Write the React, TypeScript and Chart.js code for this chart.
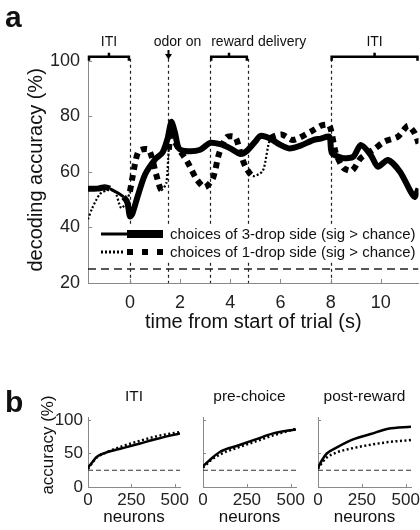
import React, { useEffect, useRef } from "react";
import { Chart, registerables } from "chart.js";

Chart.register(...registerables);

const FONT = "'Liberation Sans', Arial, Helvetica, sans-serif";
const INK = "#111111";
const AXIS = "#8a8a8a";

// ---------------- panel a data ----------------
const timeTicks = [0, 2, 4, 6, 8, 10];
const accuracyTicks = [20, 40, 60, 80, 100];
const timeMin = -1.67;
const timeMax = 11.5;
const chanceLevel = 25;

const threeDropTime = [-1.67, -1.3, -1.0, -0.8, -0.6, -0.4, -0.25, -0.1, 0.0, 0.1, 0.3, 0.6, 1.0, 1.3, 1.5, 1.65, 1.8, 1.95, 2.3, 2.8, 3.2, 3.6, 4.0, 4.4, 4.65, 5.0, 5.2, 5.6, 5.95, 6.35, 6.8, 7.3, 7.6, 7.95, 8.05, 8.5, 8.9, 9.2, 9.6, 9.88, 10.28, 10.76, 11.22, 11.35, 11.5];
const threeDropAcc = [54, 54, 54.5, 54, 53, 52, 51, 49, 44, 45, 51, 59, 64.5, 67, 72, 78, 74, 68.5, 67.5, 68, 70.5, 70, 68.5, 66.5, 67.5, 71, 73, 72, 70, 68.5, 69.5, 71.5, 72, 72.7, 66.8, 65, 65.5, 69.7, 66.1, 61.9, 64.3, 60.1, 52.4, 51, 54];
const threeDropSig = [1, 1, 1, 0, 0, 0, 1, 1, 1, 1, 1, 1, 1, 1, 1, 1, 1, 1, 1, 1, 1, 1, 1, 1, 1, 1, 1, 1, 1, 1, 1, 1, 1, 1, 1, 1, 1, 1, 1, 1, 1, 1, 1, 1, 1];

const oneDropTime = [-1.67, -1.5, -1.2, -0.9, -0.6, -0.35, -0.15, 0.0, 0.1, 0.35, 0.75, 1.05, 1.25, 1.45, 1.55, 1.65, 1.9, 2.3, 2.65, 2.98, 3.3, 3.55, 3.85, 4.2, 4.4, 4.6, 4.9, 5.3, 5.6, 6.05, 6.5, 7.2, 7.65, 7.95, 8.2, 8.5, 8.85, 9.2, 9.7, 10.15, 10.68, 11.08, 11.35, 11.5];
const oneDropAcc = [43, 47, 52, 53.5, 53, 47, 49, 53, 58, 67.5, 68, 59, 53.5, 56, 68, 73, 69, 63.5, 57.5, 54.5, 57.5, 66.5, 72.5, 72.5, 67, 62, 58.5, 60.5, 72, 73.5, 71.5, 74.5, 76.8, 76.8, 67, 61.5, 60.5, 65, 68, 71, 72.7, 76.6, 74, 70.3];
const oneDropSig = [0, 0, 0, 0, 0, 0, 0, 1, 1, 1, 1, 1, 0, 0, 1, 1, 1, 1, 1, 1, 1, 1, 1, 1, 1, 1, 0, 0, 1, 1, 1, 1, 1, 1, 1, 1, 1, 1, 1, 1, 1, 1, 1, 1];

const eventTimes = [0, 1.5, 3.2, 4.7, 8];
const periodLabels = ["ITI", "reward delivery", "ITI"];
const periodStart = [-1.67, 3.2, 8];
const periodEnd = [0, 4.7, 11.5];
const odorLabel = "odor on";
const odorTime = 1.5;
const legendLabels = [
  "choices of 3-drop side (sig > chance)",
  "choices of 1-drop side (sig > chance)",
];
const xTitleA = "time from start of trial (s)";
const yTitleA = "decoding accuracy (%)";

// ---------------- panel b data ----------------
const neuronTicks = [0, 250, 500];
const accuracyTicksB = [0, 50, 100];
const neuronCounts = [0, 25, 50, 100, 200, 300, 400, 530];
const epochTitles = ["ITI", "pre-choice", "post-reward"];
const itiSolid = [29, 37, 45, 51, 58, 65, 72, 80];
const itiDotted = [27, 36, 44, 51, 61, 69, 76, 82];
const preChoiceSolid = [31, 37, 43, 53, 62, 71, 80, 86];
const preChoiceDotted = [29, 35, 41, 49, 59, 68, 77, 87];
const postRewardSolid = [29, 41, 50, 58, 71, 79, 87, 90];
const postRewardDotted = [27, 37, 44, 51, 58, 63, 67, 70];
const xTitleB = "neurons";
const yTitleB = "accuracy (%)";

const solidByEpoch = [itiSolid, preChoiceSolid, postRewardSolid];
const dottedByEpoch = [itiDotted, preChoiceDotted, postRewardDotted];

function pts(xs: number[], ys: number[]) {
  return xs.map((x, i) => ({ x, y: ys[i] }));
}

function PanelA() {
  const ref = useRef<HTMLCanvasElement>(null);
  useEffect(() => {
    const canvas = ref.current!;
    const H = 340;
    const axisBottom = 283;

    const overlay = {
      id: "overlayA",
      beforeDatasetsDraw(chart: any) {
        const { ctx, chartArea: ca, scales } = chart;
        ctx.save();
        ctx.strokeStyle = "#222";
        ctx.lineWidth = 1.2;
        ctx.setLineDash([3, 3]);
        eventTimes.forEach((t) => {
          const x = Math.round(scales.x.getPixelForValue(t)) + 0.5;
          ctx.beginPath();
          ctx.moveTo(x, ca.top + 2);
          ctx.lineTo(x, ca.bottom);
          ctx.stroke();
        });
        ctx.restore();
      },
      afterDatasetsDraw(chart: any) {
        const { ctx, chartArea: ca, scales } = chart;
        ctx.save();
        // legend box
        const lyA = scales.y.getPixelForValue(chanceLevel);
        ctx.fillStyle = "#ffffff";
        ctx.fillRect(95, 224, ca.right - 96, 37);
        ctx.strokeStyle = "#000";
        ctx.lineCap = "butt";
        const ly = [234, 252];
        ctx.lineWidth = 3;
        ctx.beginPath();
        ctx.moveTo(101, ly[0]);
        ctx.lineTo(128, ly[0]);
        ctx.stroke();
        ctx.lineWidth = 8;
        ctx.beginPath();
        ctx.moveTo(127, ly[0]);
        ctx.lineTo(163, ly[0]);
        ctx.stroke();
        ctx.lineWidth = 3;
        ctx.setLineDash([2, 2]);
        ctx.beginPath();
        ctx.moveTo(101, ly[1]);
        ctx.lineTo(125, ly[1]);
        ctx.stroke();
        ctx.setLineDash([]);
        ctx.fillStyle = "#000";
        [127, 142, 157].forEach((x) => ctx.fillRect(x, ly[1] - 3, 6, 6));
        ctx.fillStyle = INK;
        ctx.font = `15px ${FONT}`;
        ctx.textAlign = "left";
        ctx.textBaseline = "middle";
        legendLabels.forEach((s, i) => ctx.fillText(s, 170, ly[i] + 0.5));
        void lyA;

        // brackets and labels above plot
        const by = ca.top;
        ctx.strokeStyle = "#000";
        ctx.lineWidth = 2.5;
        ctx.font = `14px ${FONT}`;
        ctx.textBaseline = "middle";
        periodLabels.forEach((lab, i) => {
          const x1 = scales.x.getPixelForValue(periodStart[i]);
          const x2 = scales.x.getPixelForValue(periodEnd[i]);
          const xc = (x1 + x2) / 2;
          ctx.beginPath();
          ctx.moveTo(x1 + 1, by + 4);
          ctx.lineTo(x1 + 1, by);
          ctx.lineTo(x2 - 1, by);
          ctx.lineTo(x2 - 1, by + 4);
          ctx.moveTo(xc, by);
          ctx.lineTo(xc, by - 4);
          ctx.stroke();
          const w = ctx.measureText(lab).width;
          if (w > x2 - x1) {
            ctx.textAlign = "left";
            ctx.fillText(lab, x1 + 1, 42);
          } else {
            ctx.textAlign = "center";
            ctx.fillText(lab, xc, 42);
          }
        });
        // odor on arrow
        const ox = Math.round(scales.x.getPixelForValue(odorTime)) + 0.5;
        ctx.lineWidth = 2;
        ctx.beginPath();
        ctx.moveTo(ox, 50);
        ctx.lineTo(ox, 55);
        ctx.stroke();
        ctx.beginPath();
        ctx.moveTo(ox - 3.5, 54);
        ctx.lineTo(ox + 3.5, 54);
        ctx.lineTo(ox, 59.5);
        ctx.closePath();
        ctx.fillStyle = "#000";
        ctx.fill();
        ctx.fillStyle = INK;
        ctx.textAlign = "center";
        ctx.fillText(odorLabel, ox + 9, 42);

        // panel letter
        ctx.font = `bold 30px ${FONT}`;
        ctx.textAlign = "left";
        ctx.textBaseline = "alphabetic";
        ctx.fillText("a", 5, 27);
        ctx.restore();
      },
      afterDraw(chart: any) {
        const { ctx, chartArea: ca, scales } = chart;
        ctx.save();
        ctx.strokeStyle = AXIS;
        ctx.lineWidth = 1;
        ctx.beginPath();
        accuracyTicks.forEach((v) => {
          const y = Math.round(scales.y.getPixelForValue(v)) + 0.5;
          ctx.moveTo(ca.left, y);
          ctx.lineTo(ca.left + 4, y);
        });
        timeTicks.forEach((v) => {
          const x = Math.round(scales.x.getPixelForValue(v)) + 0.5;
          ctx.moveTo(x, ca.bottom);
          ctx.lineTo(x, ca.bottom - 4);
        });
        ctx.stroke();
        ctx.restore();
      },
    };

    const chart = new Chart(canvas, {
      type: "line",
      data: {
        datasets: [
          {
            label: legendLabels[0],
            data: pts(threeDropTime, threeDropAcc),
            borderColor: "#000",
            borderWidth: 6,
            pointRadius: 0,
            tension: 0.25,
            borderJoinStyle: "round",
            borderCapStyle: "butt",
            segment: {
              borderWidth: (c: any) => (threeDropSig[c.p0DataIndex] ? 6 : 3),
            },
          } as any,
          {
            label: legendLabels[1],
            data: pts(oneDropTime, oneDropAcc),
            borderColor: "#000",
            borderWidth: 6,
            borderDash: [6, 5],
            pointRadius: 0,
            tension: 0.25,
            borderCapStyle: "butt",
            segment: {
              borderWidth: (c: any) => (oneDropSig[c.p0DataIndex] ? 6 : 2.2),
              borderDash: (c: any) => (oneDropSig[c.p0DataIndex] ? [6, 5] : [2, 2]),
            },
          } as any,
          {
            label: "chance",
            data: [
              { x: timeMin, y: chanceLevel },
              { x: timeMax, y: chanceLevel },
            ],
            borderColor: "#222",
            borderWidth: 1.5,
            borderDash: [8, 5],
            pointRadius: 0,
          },
        ],
      },
      options: {
        responsive: false,
        animation: false,
        devicePixelRatio: 1,
        layout: { padding: { top: 56.8, right: 1.5, left: 0, bottom: 0 } },
        plugins: { legend: { display: false }, tooltip: { enabled: false } },
        scales: {
          x: {
            type: "linear",
            min: timeMin,
            max: timeMax,
            afterBuildTicks: (s: any) => {
              s.ticks = timeTicks.map((v) => ({ value: v }));
            },
            afterFit: (s: any) => {
              s.height = H - axisBottom;
              s.paddingLeft = 0;
              s.paddingRight = 0;
            },
            grid: { display: false, drawTicks: false },
            border: { display: true, color: AXIS, width: 1 },
            ticks: {
              font: { family: FONT, size: 18 },
              color: "#222",
              padding: 9,
              maxRotation: 0,
              autoSkip: false,
            },
            title: {
              display: true,
              text: xTitleA,
              font: { family: FONT, size: 20 },
              color: INK,
              padding: { top: 0, bottom: 6 },
            },
          },
          y: {
            type: "linear",
            min: 20,
            max: 101.5,
            afterBuildTicks: (s: any) => {
              s.ticks = accuracyTicks.map((v) => ({ value: v }));
            },
            afterFit: (s: any) => {
              s.width = 88;
              s.paddingTop = 0;
              s.paddingBottom = 0;
            },
            grid: { display: false, drawTicks: false },
            border: { display: true, color: AXIS, width: 1 },
            ticks: {
              font: { family: FONT, size: 18 },
              color: "#222",
              padding: 8,
            },
            title: {
              display: true,
              text: yTitleA,
              font: { family: FONT, size: 20 },
              color: INK,
              padding: { top: 24, bottom: 0 },
            },
          },
        },
      } as any,
      plugins: [overlay],
    });
    return () => chart.destroy();
  }, []);
  return (
    <canvas
      ref={ref}
      width={420}
      height={340}
      style={{ position: "absolute", left: 0, top: 0 }}
    />
  );
}

const epochLeft = [0, 190, 305];
const epochWidth = [190, 115, 115];

function EpochChart({ idx }: { idx: number }) {
  const ref = useRef<HTMLCanvasElement>(null);
  useEffect(() => {
    const canvas = ref.current!;
    const first = idx === 0;
    const H = 150;
    const overlay = {
      id: "epochOverlay" + idx,
      afterDraw(chart: any) {
        const { ctx, chartArea: ca, scales } = chart;
        ctx.save();
        ctx.strokeStyle = AXIS;
        ctx.lineWidth = 1;
        ctx.beginPath();
        accuracyTicksB.forEach((v) => {
          const y = Math.round(scales.y.getPixelForValue(v)) + 0.5;
          ctx.moveTo(ca.left, y);
          ctx.lineTo(ca.left + 3, y);
        });
        neuronTicks.forEach((v) => {
          const x = Math.round(scales.x.getPixelForValue(v)) + 0.5;
          ctx.moveTo(x, ca.bottom);
          ctx.lineTo(x, ca.bottom - 3);
        });
        ctx.stroke();
        ctx.fillStyle = INK;
        ctx.textAlign = "center";
        ctx.textBaseline = "middle";
        ctx.font = `15.5px ${FONT}`;
        ctx.fillText(epochTitles[idx], (ca.left + ca.right) / 2, 17);
        if (first) {
          ctx.save();
          ctx.translate(48, 65);
          ctx.rotate(-Math.PI / 2);
          ctx.font = `17px ${FONT}`;
          ctx.fillText(yTitleB, 0, 0);
          ctx.restore();
          ctx.font = `bold 30px ${FONT}`;
          ctx.textAlign = "left";
          ctx.textBaseline = "alphabetic";
          ctx.fillText("b", 5, 32);
        }
        ctx.restore();
      },
    };
    const chart = new Chart(canvas, {
      type: "line",
      data: {
        datasets: [
          {
            label: "3-drop",
            data: pts(neuronCounts, solidByEpoch[idx]),
            borderColor: "#000",
            borderWidth: 2.5,
            pointRadius: 0,
            cubicInterpolationMode: "monotone",
          } as any,
          {
            label: "1-drop",
            data: pts(neuronCounts, dottedByEpoch[idx]),
            borderColor: "#000",
            borderWidth: 2.5,
            borderDash: [2, 2.5],
            pointRadius: 0,
            cubicInterpolationMode: "monotone",
          } as any,
          {
            label: "chance",
            data: [
              { x: 0, y: chanceLevel },
              { x: 530, y: chanceLevel },
            ],
            borderColor: "#333",
            borderWidth: 1.2,
            borderDash: [5, 3],
            pointRadius: 0,
          },
        ],
      },
      options: {
        responsive: false,
        animation: false,
        devicePixelRatio: 1,
        layout: { padding: { top: 37.3, right: first ? 10 : 9, left: 0, bottom: 0 } },
        plugins: { legend: { display: false }, tooltip: { enabled: false } },
        scales: {
          x: {
            type: "linear",
            min: 0,
            max: 530,
            afterBuildTicks: (s: any) => {
              s.ticks = neuronTicks.map((v) => ({ value: v }));
            },
            afterFit: (s: any) => {
              s.height = 43;
              s.paddingLeft = 0;
              s.paddingRight = 0;
            },
            grid: { display: false, drawTicks: false },
            border: { display: true, color: AXIS, width: 1 },
            ticks: {
              font: { family: FONT, size: 17 },
              color: "#222",
              padding: 3,
              maxRotation: 0,
              autoSkip: false,
            },
            title: {
              display: true,
              text: xTitleB,
              font: { family: FONT, size: 17 },
              color: INK,
              padding: { top: 0, bottom: 2 },
            },
          },
          y: {
            type: "linear",
            min: 0,
            max: 104,
            afterBuildTicks: (s: any) => {
              s.ticks = accuracyTicksB.map((v) => ({ value: v }));
            },
            afterFit: (s: any) => {
              s.width = first ? 88 : 13;
              s.paddingTop = 0;
              s.paddingBottom = 0;
            },
            grid: { display: false, drawTicks: false },
            border: { display: true, color: AXIS, width: 1 },
            ticks: {
              display: first,
              font: { family: FONT, size: 17 },
              color: "#222",
              padding: 5,
            },
          },
        },
      } as any,
      plugins: [overlay],
    });
    void H;
    return () => chart.destroy();
  }, [idx]);
  return (
    <canvas
      ref={ref}
      width={epochWidth[idx]}
      height={150}
      style={{ position: "absolute", left: epochLeft[idx], top: 380 }}
    />
  );
}

export default function App() {
  return (
    <div style={{ position: "absolute", left: 0, top: 0, width: 420, height: 530, background: "#fff" }}>
      <PanelA />
      <EpochChart idx={0} />
      <EpochChart idx={1} />
      <EpochChart idx={2} />
    </div>
  );
}
